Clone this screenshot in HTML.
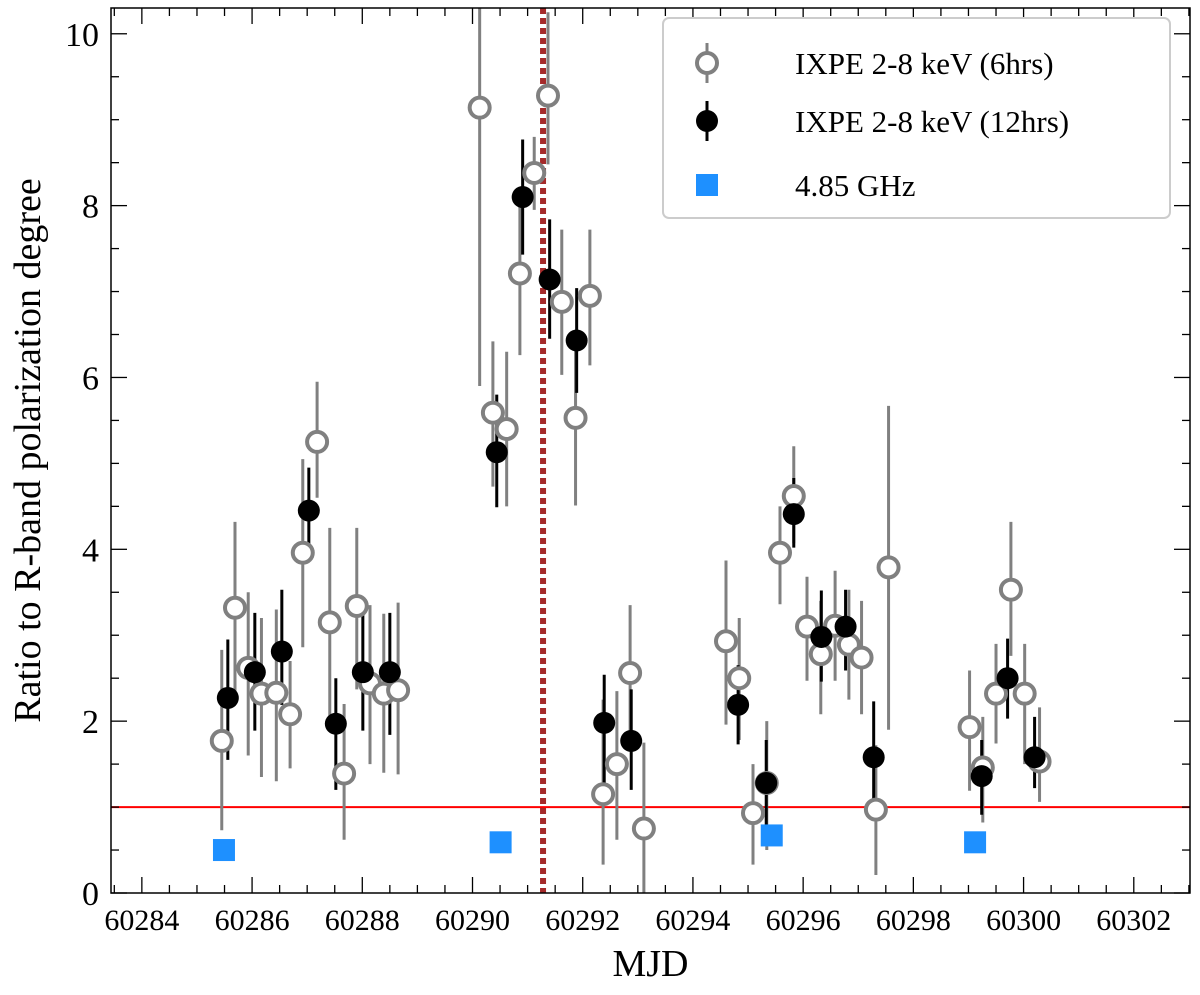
<!DOCTYPE html>
<html><head><meta charset="utf-8"><style>
body{margin:0;background:#fff}
svg text{font-family:"Liberation Serif",serif;fill:#000}
</style></head><body>
<svg id="chart" width="1200" height="990" xmlns="http://www.w3.org/2000/svg">
<g id="grid"></g>
</svg>
<script>
// 6hr open circles: [mjd, value, low, high]
const x6 = [60285.45,60285.69,60285.93,60286.17,60286.44,60286.69,60286.92,60287.18,60287.41,60287.67,60287.9,60288.14,60288.39,60288.65,60290.13,60290.37,60290.62,60290.86,60291.12,60291.37,60291.62,60291.87,60292.13,60292.37,60292.62,60292.86,60293.11,60294.6,60294.84,60295.09,60295.34,60295.58,60295.83,60296.07,60296.32,60296.58,60296.83,60297.06,60297.32,60297.55,60299.02,60299.26,60299.5,60299.77,60300.02,60300.29];
const y6 = [1.77,3.32,2.62,2.32,2.33,2.08,3.96,5.25,3.15,1.39,3.34,2.44,2.32,2.36,9.14,5.59,5.40,7.21,8.38,9.28,6.88,5.53,6.95,1.15,1.50,2.56,0.75,2.93,2.50,0.93,1.28,3.96,4.62,3.10,2.78,3.11,2.89,2.74,0.97,3.79,1.93,1.46,2.32,3.53,2.32,1.53];
const lo6 = [0.73,2.25,1.6,1.35,1.3,1.45,2.86,4.6,2.02,0.62,2.37,1.5,1.4,1.38,5.9,4.73,4.5,6.26,7.95,8.48,6.03,4.51,6.14,0.33,0.62,1.78,0.0,1.96,1.78,0.33,0.5,3.36,4.07,2.47,2.08,2.47,2.25,2.08,0.21,1.90,1.19,0.82,1.74,2.76,1.5,1.06];
const hi6 = [2.83,4.32,3.5,3.2,3.3,2.7,5.05,5.95,4.25,2.2,4.25,3.35,3.25,3.38,10.3,6.42,6.3,8.13,8.8,10.25,7.72,6.45,7.72,2.25,2.35,3.35,1.75,3.87,3.2,1.5,2.0,4.5,5.2,3.68,3.4,3.75,3.53,3.4,1.72,5.67,2.59,2.05,2.9,4.32,2.9,2.16];
// 12hr filled circles
const x12 = [60285.56,60286.05,60286.54,60287.03,60287.52,60288.01,60288.5,60290.44,60290.91,60291.4,60291.89,60292.39,60292.88,60294.82,60295.33,60295.83,60296.33,60296.77,60297.28,60299.24,60299.71,60300.2];
const y12 = [2.27,2.57,2.81,4.45,1.97,2.57,2.57,5.13,8.10,7.14,6.43,1.98,1.77,2.19,1.28,4.41,2.98,3.10,1.58,1.36,2.50,1.58];
const lo12 = [1.55,1.89,2.19,3.88,1.20,1.89,1.84,4.49,7.43,6.45,5.82,1.20,1.20,1.73,0.79,4.02,2.46,2.59,0.97,0.91,2.03,1.22];
const hi12 = [2.95,3.26,3.53,4.95,2.50,3.26,3.26,5.80,8.77,7.84,7.04,2.54,2.37,2.65,1.78,4.83,3.52,3.53,2.23,1.78,2.96,2.05];
// radio squares
const xr = [60285.49,60290.51,60295.43,60299.12];
const yr = [0.50,0.59,0.67,0.59];
const xTicks = [60284,60286,60288,60290,60292,60294,60296,60298,60300,60302];
const yTicks = [0,2,4,6,8,10];
const vline = 60291.28, hline = 1;

const L=111,R=1190,T=8,B=893;
const X0=60283.44,X1=60303.02,Y0=0,Y1=10.3;
const sx=v=>L+(v-X0)/(X1-X0)*(R-L);
const sy=v=>B-(v-Y0)/(Y1-Y0)*(B-T);
const svg=document.getElementById('chart');
const NS='http://www.w3.org/2000/svg';
function mk(tag,attrs,parent){const e=document.createElementNS(NS,tag);for(const k in attrs)e.setAttribute(k,attrs[k]);(parent||svg).appendChild(e);return e;}

let e=mk('line',{x1:L,x2:R,y1:sy(hline),y2:sy(hline),stroke:'#ff0000','stroke-width':2});


e=mk('line',{x1:sx(vline),x2:sx(vline),y1:T,y2:B,stroke:'#a52a2a','stroke-width':6,'stroke-dasharray':'6,4'});



for(let i=0;i<x6.length;i++){
  e=mk('line',{x1:sx(x6[i]),x2:sx(x6[i]),y1:sy(lo6[i]),y2:sy(Math.min(hi6[i],Y1)),stroke:'#808080','stroke-width':3});
  
  
}
for(let i=0;i<x12.length;i++){
  e=mk('line',{x1:sx(x12[i]),x2:sx(x12[i]),y1:sy(lo12[i]),y2:sy(hi12[i]),stroke:'#000','stroke-width':3});
  
  
}
for(let i=0;i<x6.length;i++){
  e=mk('circle',{cx:sx(x6[i]),cy:sy(y6[i]),r:10,fill:'#fff',stroke:'#808080','stroke-width':4});
  
  
}
for(let i=0;i<x12.length;i++){
  e=mk('circle',{cx:sx(x12[i]),cy:sy(y12[i]),r:11,fill:'#000'});
  
  
}
for(let i=0;i<xr.length;i++){
  e=mk('rect',{x:sx(xr[i])-11,y:sy(yr[i])-11,width:22,height:22,fill:'#1e90ff'});
  
  
}

e=mk('rect',{x:L,y:T,width:R-L,height:B-T,fill:'none',stroke:'#000','stroke-width':1.5});


for(let v=60283.5;v<=X1;v+=0.5){
  const major=Math.abs(v/2-Math.round(v/2))<1e-6;
  const len=major?16:8;
  mk('line',{x1:sx(v),x2:sx(v),y1:B,y2:B-len,stroke:'#000','stroke-width':1.3});
  mk('line',{x1:sx(v),x2:sx(v),y1:T,y2:T+len,stroke:'#000','stroke-width':1.3});
}
xTicks.forEach(v=>{
  const t=mk('text',{x:sx(v),y:B+37,'font-size':30,'text-anchor':'middle'});t.textContent=v;
  
  
});
for(let v=0;v<=Y1;v+=0.5){
  const major=Math.abs(v/2-Math.round(v/2))<1e-6;
  const len=major?16:8;
  mk('line',{x1:L,x2:L+len,y1:sy(v),y2:sy(v),stroke:'#000','stroke-width':1.3});
  mk('line',{x1:R,x2:R-len,y1:sy(v),y2:sy(v),stroke:'#000','stroke-width':1.3});
}
yTicks.forEach(v=>{
  const t=mk('text',{x:L-12,y:sy(v)+12,'font-size':34,'text-anchor':'end'});t.textContent=v;
  
  
});
let t=mk('text',{x:(L+R)/2,y:976,'font-size':38,'text-anchor':'middle'});t.textContent='MJD';


t=mk('text',{x:0,y:0,'font-size':38,'text-anchor':'middle',transform:`translate(40,${(T+B)/2}) rotate(-90)`});t.textContent='Ratio to R-band polarization degree';



const lg=mk('g',{});


mk('rect',{x:663,y:18,width:507,height:200,rx:6,fill:'#fff',stroke:'#ccc','stroke-width':2},lg);
const ly=[63,121,185];
mk('line',{x1:707,x2:707,y1:43,y2:83,stroke:'#808080','stroke-width':3},lg);
mk('circle',{cx:707,cy:63,r:10,fill:'#fff',stroke:'#808080','stroke-width':4},lg);
mk('line',{x1:707,x2:707,y1:101,y2:141,stroke:'#000','stroke-width':3},lg);
mk('circle',{cx:707,cy:121,r:11,fill:'#000'},lg);
mk('rect',{x:696,y:174,width:22,height:22,fill:'#1e90ff'},lg);
['IXPE 2-8 keV (6hrs)','IXPE 2-8 keV (12hrs)','4.85 GHz'].forEach((s,i)=>{
  const tt=mk('text',{x:795,y:ly[i]+11,'font-size':31},lg);tt.textContent=s;
  
  
});
</script>
</body></html>
